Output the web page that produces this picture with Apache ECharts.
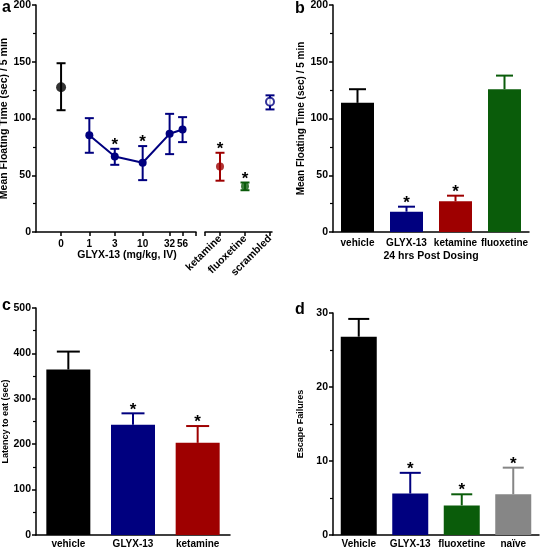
<!DOCTYPE html>
<html><head><meta charset="utf-8">
<script src="https://cdn.jsdelivr.net/npm/echarts@6/dist/echarts.min.js"></script>
<style>html,body{margin:0;padding:0;background:#fff}#c{width:544px;height:550px}</style>
</head><body><div id="c"></div>
<script>
// ---------- Panel a: dose-response (points + SEM) ----------
const aDoseLabels = ['0', '1', '3', '10', '32', '56'];
const aDoses = [0, 1, 3, 10, 32, 56];
const aMeans = [127.6, 85.3, 66.6, 61.0, 86.5, 90.3];
const aLow   = [107.3, 69.8, 59.2, 45.7, 68.6, 79.2];
const aHigh  = [148.7, 100.3, 73.3, 75.7, 104.1, 101.2];
const aSig   = [0, 0, 1, 1, 0, 0];
const aCtrlCats  = ['ketamine', 'fluoxetine', 'scrambled'];
const aCtrlMeans = [57.8, 40.2, 114.8];
const aCtrlLow   = [45.2, 36.8, 108.0];
const aCtrlHigh  = [69.8, 43.6, 120.4];
const aCtrlSig   = [1, 1, 0];

// ---------- Panel b: 24 hrs post dosing ----------
const bCats  = ['vehicle', 'GLYX-13', 'ketamine', 'fluoxetine'];
const bMeans = [113.8, 17.9, 27.0, 125.8];
const bErr   = [12.0, 4.4, 5.0, 12.0];
const bSig   = [0, 1, 1, 0];

// ---------- Panel c: latency to eat ----------
const cCats  = ['vehicle', 'GLYX-13', 'ketamine'];
const cMeans = [364.5, 243.0, 203.0];
const cErr   = [39.5, 25.0, 37.0];
const cSig   = [0, 1, 1];

// ---------- Panel d: escape failures ----------
const dCats  = ['Vehicle', 'GLYX-13', 'fluoxetine', 'naïve'];
const dMeans = [26.8, 5.6, 4.0, 5.5];
const dErr   = [2.4, 2.8, 1.5, 3.6];
const dSig   = [0, 1, 1, 1];

// ---------- styling ----------
const FONT = 'Liberation Sans, Arial, Helvetica, sans-serif';
const BLACK = '#000000', NAVY = '#00007f', RED = '#9e0000', GREEN = '#0a5c0a', GRAY = '#868686';
const VEHICLE_X = -0.53; // axis-break position used for the 0 dose
const xOf = d => d > 0 ? Math.log10(d) : VEHICLE_X;
const aX = aDoses.map(xOf);
const aColors = aDoses.map(d => d === 0 ? BLACK : NAVY);
const aCtrlColors = [RED, GREEN, NAVY];
const bColors = [BLACK, NAVY, RED, GREEN];
const cColors = [BLACK, NAVY, RED];
const dColors = [BLACK, NAVY, GREEN, GRAY];

function errRender(colors, capHalf, twoSided) {
  return function (params, api) {
    const x = api.value(0), m = api.value(1), lo = api.value(2), hi = api.value(3), sig = api.value(4);
    const col = colors[params.dataIndex];
    const pT = api.coord([x, hi]);
    const pB = api.coord([x, twoSided ? lo : m]);
    const st = { stroke: col, lineWidth: 2, fill: null };
    const ch = [
      { type: 'line', shape: { x1: pT[0], y1: pT[1], x2: pB[0], y2: pB[1] }, style: st },
      { type: 'line', shape: { x1: pT[0] - capHalf, y1: pT[1], x2: pT[0] + capHalf, y2: pT[1] }, style: st }
    ];
    if (twoSided) ch.push({ type: 'line', shape: { x1: pB[0] - capHalf, y1: pB[1], x2: pB[0] + capHalf, y2: pB[1] }, style: st });
    if (sig) ch.push({ type: 'text', style: { text: '*', x: pT[0], y: pT[1] + 5, align: 'center', verticalAlign: 'bottom', font: 'bold 17px ' + FONT, fill: '#000' } });
    return { type: 'group', children: ch };
  };
}

const xLineStyle = { show: true, lineStyle: { color: '#000', width: 1.5 } };
const yLineStyle = { show: true, onZero: false, lineStyle: { color: '#000', width: 1.5 } };
const lblStyle = { color: '#000', fontWeight: 'bold', fontSize: 10, fontFamily: FONT };

function yAxis(grid, max, interval, name, nameSize, nameGap) {
  return {
    type: 'value', gridIndex: grid, min: 0, max: max, interval: interval,
    axisLine: yLineStyle, axisTick: { show: true, length: 4, lineStyle: { color: '#000', width: 1.5 } },
    minorTick: { show: true, splitNumber: 2, length: 3, lineStyle: { color: '#000', width: 1.2 } },
    splitLine: { show: false }, minorSplitLine: { show: false },
    axisLabel: Object.assign({ margin: 5 }, lblStyle, { fontSize: 10.5 }),
    name: name, nameLocation: 'middle', nameGap: nameGap,
    nameTextStyle: { color: '#000', fontWeight: 'bold', fontSize: nameSize, fontFamily: FONT }
  };
}
function catAxis(grid, cats, margin, name) {
  return {
    type: 'category', gridIndex: grid, data: cats,
    axisLine: xLineStyle, axisTick: { show: false },
    axisLabel: Object.assign({ margin: margin, interval: 0 }, lblStyle),
    name: name || '', nameLocation: 'middle', nameGap: 19,
    nameTextStyle: { color: '#000', fontWeight: 'bold', fontSize: 10.5, fontFamily: FONT }
  };
}
function barData(means, colors) {
  return means.map((m, i) => ({ value: m, itemStyle: { color: colors[i] } }));
}
function errData(means, errs, sig) {
  return means.map((m, i) => [i, m, m, m + errs[i], sig[i]]);
}

const chart = echarts.init(document.getElementById('c'), null, { renderer: 'canvas' });
const option = {
  animation: false,
  backgroundColor: '#fff',
  grid: [
    { left: 36, top: 5, width: 160, height: 227, outerBoundsMode: 'none' },
    { left: 205, top: 5, width: 67, height: 227, outerBoundsMode: 'none' },
    { left: 333, top: 5, width: 196, height: 227, outerBoundsMode: 'none' },
    { left: 36, top: 308, width: 194, height: 227, outerBoundsMode: 'none' },
    { left: 333, top: 313, width: 206, height: 222, outerBoundsMode: 'none' }
  ],
  xAxis: [
    {
      type: 'value', gridIndex: 0, min: -1, max: 2,
      axisLine: xLineStyle, splitLine: { show: false },
      axisTick: { show: true, length: 4, customValues: aX.concat([2]), lineStyle: { color: '#000', width: 1.5 } },
      axisLabel: Object.assign({
        margin: 7, customValues: aX,
        formatter: v => { const k = aX.findIndex(x => Math.abs(x - v) < 1e-6); return k >= 0 ? aDoseLabels[k] : ''; }
      }, lblStyle),
      name: 'GLYX-13 (mg/kg, IV)', nameLocation: 'middle', nameGap: 18,
      nameTextStyle: { color: '#000', fontWeight: 'bold', fontSize: 10.5, fontFamily: FONT, padding: [0, 0, 0, 22] }
    },
    {
      type: 'value', gridIndex: 1, min: 0.4, max: 3.08,
      axisLine: xLineStyle, splitLine: { show: false },
      axisTick: { show: true, length: 4, customValues: [0.4, 1, 2, 3], lineStyle: { color: '#000', width: 1.5 } },
      axisLabel: Object.assign({
        margin: 5, rotate: 45, customValues: [1, 2, 3],
        formatter: v => aCtrlCats[Math.round(v) - 1] || ''
      }, lblStyle, { fontSize: 10.5 })
    },
    catAxis(2, bCats, 6, '24 hrs Post Dosing'),
    catAxis(3, cCats, 4),
    catAxis(4, dCats, 4)
  ],
  yAxis: [
    yAxis(0, 200, 50, 'Mean Floating Time (sec) / 5 min', 10.5, 23),
    { type: 'value', gridIndex: 1, min: 0, max: 200, show: false },
    yAxis(2, 200, 50, 'Mean Floating Time (sec) / 5 min', 10, 27),
    yAxis(3, 500, 100, 'Latency to eat (sec)', 9, 24),
    yAxis(4, 30, 10, 'Escape Failures', 9, 28)
  ],
  series: [
    // panel a
    { type: 'custom', xAxisIndex: 0, yAxisIndex: 0, renderItem: errRender(aColors, 4.5, true),
      data: aX.map((x, i) => [x, aMeans[i], aLow[i], aHigh[i], aSig[i]]), z: 2 },
    { type: 'line', xAxisIndex: 0, yAxisIndex: 0, symbol: 'circle', symbolSize: 8,
      lineStyle: { color: NAVY, width: 2 }, itemStyle: { color: NAVY },
      data: aX.slice(1).map((x, i) => [x, aMeans[i + 1]]), z: 3 },
    { type: 'scatter', xAxisIndex: 0, yAxisIndex: 0, symbol: 'circle', symbolSize: 10,
      itemStyle: { color: BLACK }, data: [[aX[0], aMeans[0]]], z: 3 },
    { type: 'custom', xAxisIndex: 1, yAxisIndex: 1, renderItem: errRender(aCtrlColors, 4.5, true),
      data: aCtrlMeans.map((m, i) => [i + 1, m, aCtrlLow[i], aCtrlHigh[i], aCtrlSig[i]]), z: 2 },
    { type: 'scatter', xAxisIndex: 1, yAxisIndex: 1, symbol: 'circle', symbolSize: 8,
      data: aCtrlMeans.map((m, i) => ({
        value: [i + 1, m],
        itemStyle: aCtrlCats[i] === 'scrambled'
          ? { color: '#fff', borderColor: aCtrlColors[i], borderWidth: 2 }
          : { color: aCtrlColors[i] }
      })), z: 3 },
    // panel b
    { type: 'custom', xAxisIndex: 2, yAxisIndex: 2, renderItem: errRender(bColors, 8.5, false), data: errData(bMeans, bErr, bSig), z: 1 },
    { type: 'bar', xAxisIndex: 2, yAxisIndex: 2, barWidth: 33, data: barData(bMeans, bColors), z: 2 },
    // panel c
    { type: 'custom', xAxisIndex: 3, yAxisIndex: 3, renderItem: errRender(cColors, 11.5, false), data: errData(cMeans, cErr, cSig), z: 1 },
    { type: 'bar', xAxisIndex: 3, yAxisIndex: 3, barWidth: 44, data: barData(cMeans, cColors), z: 2 },
    // panel d
    { type: 'custom', xAxisIndex: 4, yAxisIndex: 4, renderItem: errRender(dColors, 10.5, false), data: errData(dMeans, dErr, dSig), z: 1 },
    { type: 'bar', xAxisIndex: 4, yAxisIndex: 4, barWidth: 36, data: barData(dMeans, dColors), z: 2 }
  ],
  graphic: [
    { type: 'text', left: 2, top: 0, style: { text: 'a', font: 'bold 16px ' + FONT, fill: '#000' } },
    { type: 'text', left: 295, top: 1, style: { text: 'b', font: 'bold 16px ' + FONT, fill: '#000' } },
    { type: 'text', left: 2, top: 298, style: { text: 'c', font: 'bold 16px ' + FONT, fill: '#000' } },
    { type: 'text', left: 295, top: 302, style: { text: 'd', font: 'bold 16px ' + FONT, fill: '#000' } }
  ]
};
chart.setOption(option);
</script>
</body></html>
